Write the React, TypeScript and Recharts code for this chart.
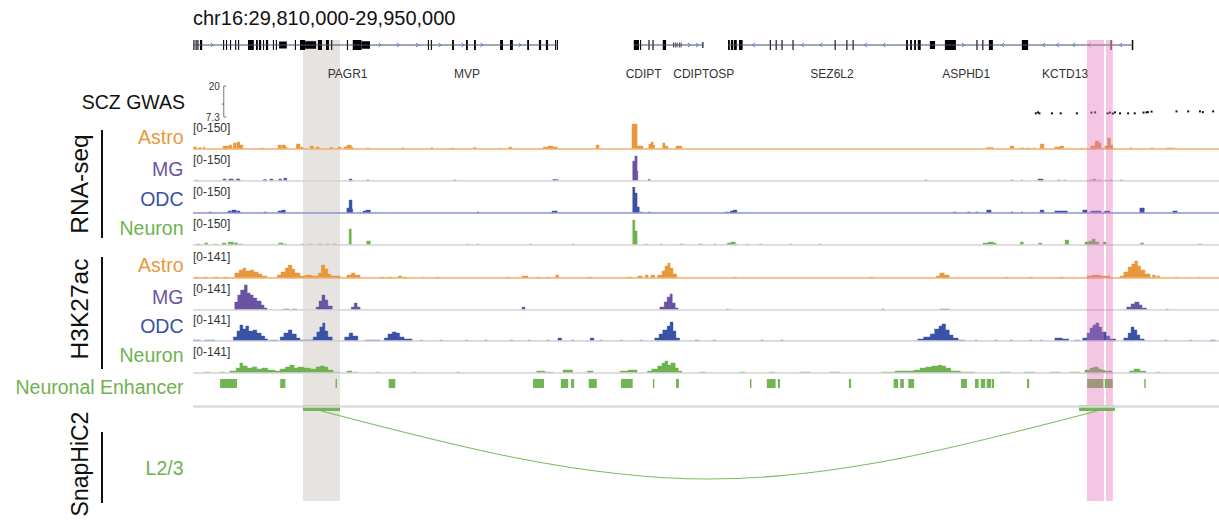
import React from "react";
import {
  Area,
  AreaChart,
  ComposedChart,
  Line,
  ReferenceArea,
  ReferenceLine,
  Scatter,
  XAxis,
  YAxis,
} from "recharts";

// all positions are kb from 29,810,000 (chr16)
const X_DOMAIN: [number, number] = [0, 140];
const TITLE = "chr16:29,810,000-29,950,000";

// gene models
const GENE_SPANS = [
  [0, 49.8],
  [60.15, 69.6],
  [73.0, 128.3],
];
// [start, end, relative height]
const EXONS = [
  [0.05, 0.2, 1], [0.35, 0.5, 1], [0.6, 0.75, 1], [0.95, 1.25, 1],
  [4.1, 4.25, 1], [4.5, 4.65, 1], [5.05, 5.2, 1], [5.75, 5.9, 1], [6.15, 6.3, 1],
  [7.5, 8.3, 1], [8.6, 8.85, 1], [9.0, 9.3, 1], [9.55, 9.7, 1], [9.95, 10.25, 1],
  [10.9, 11.05, 1], [11.3, 11.45, 1], [11.75, 12.8, 0.7],
  [13.9, 14.05, 1], [14.6, 15.3, 1], [15.3, 16.8, 0.75], [17.05, 17.6, 1], [18.15, 18.55, 1], [18.85, 19.0, 1],
  [21.0, 21.15, 1], [21.8, 23.0, 1], [23.0, 24.15, 0.75],
  [32.05, 32.2, 1], [32.45, 32.6, 1], [35.35, 35.6, 1], [37.25, 37.5, 1], [38.35, 38.6, 1],
  [41.9, 42.3, 1], [43.25, 43.65, 1], [45.6, 45.85, 1], [47.2, 47.5, 1], [48.15, 48.45, 1], [49.4, 49.55, 1], [49.65, 49.8, 1],
  [60.15, 60.85, 1], [61.0, 61.15, 1], [62.15, 62.3, 1], [62.7, 62.85, 1], [64.1, 64.55, 1],
  [65.5, 65.6, 0.5], [65.75, 65.85, 0.5], [66.0, 66.1, 0.5], [66.3, 66.4, 0.5], [66.55, 66.65, 0.5], [69.5, 69.65, 0.6],
  [73.0, 73.25, 1], [73.4, 73.7, 1], [73.8, 74.2, 1], [74.5, 75.0, 1],
  [78.7, 78.85, 1], [79.5, 79.65, 1], [80.3, 80.45, 1], [81.8, 81.95, 1], [87.55, 87.7, 1], [89.15, 89.3, 1], [90.0, 90.15, 1],
  [97.3, 97.55, 1], [97.85, 98.1, 1], [98.4, 98.65, 1], [98.9, 99.3, 1], [100.55, 101.25, 0.8],
  [102.6, 104.1, 1], [106.9, 107.05, 1], [107.7, 107.85, 1], [108.6, 109.15, 1],
  [113.1, 113.95, 1], [125.2, 125.35, 1], [128.1, 128.3, 1],
];
const STRAND_FWD = [2.6, 25.5, 28.0, 30.6, 33.7, 36.8, 39.4, 44.6, 67.7, 68.8, 105.1];
const STRAND_REV = [76.5, 83.2, 85.7, 91.8, 94.3, 110.5, 116.1, 118.0, 120.2, 122.3, 126.6];
const GENE_NAMES = ["PAGR1", "MVP", "CDIPT", "CDIPTOSP", "SEZ6L2", "ASPHD1", "KCTD13"];
const GENE_LABEL_POS = [21.1, 37.4, 61.5, 69.7, 87.2, 105.5, 119.0];

// SCZ GWAS (-log10 P)
const GWAS_POS = [115.0, 115.3, 115.5, 117.2, 118.4, 120.6, 122.6, 123.1, 124.8, 125.1, 125.5, 125.8, 126.5, 127.6, 128.5, 129.7, 130.1, 130.3, 130.8, 134.2, 135.8, 137.4, 137.8, 139.2];
const GWAS_LOGP = [8.8, 9.2, 8.8, 8.8, 8.8, 8.8, 9.1, 9.2, 8.8, 9.1, 8.7, 9.2, 8.8, 8.8, 8.8, 9.1, 9.2, 9.3, 9.5, 9.6, 9.6, 9.6, 9.3, 9.6];
const GWAS_RANGE: [number, number] = [7.3, 20];

// coverage tracks: [start, end, signal]
const RNA_ASTRO = [
  [0.1, 0.5, 12], [0.8, 1.1, 9], [1.4, 1.6, 12],
  [4.1, 4.8, 17], [4.9, 5.3, 23], [5.5, 5.9, 35], [6.0, 6.4, 40], [6.4, 6.8, 23],
  [9.3, 9.6, 6], [11.6, 12.0, 23], [12.1, 12.6, 23], [12.6, 12.8, 12],
  [14.1, 14.6, 29], [14.7, 15.0, 12], [16.0, 16.4, 17], [16.8, 17.2, 12],
  [18.7, 19.1, 9], [19.8, 20.2, 12], [20.6, 21.0, 12], [21.0, 21.6, 23], [21.6, 21.8, 12],
  [23.7, 24.0, 6], [28.5, 28.8, 6], [32.5, 32.7, 9], [35.3, 35.6, 6], [38.3, 38.6, 9], [41.8, 42.0, 6], [43.1, 43.5, 12],
  [47.8, 48.3, 12], [48.4, 49.1, 17], [49.1, 49.7, 12], [55.0, 55.4, 23],
  [59.9, 60.6, 144], [60.6, 60.9, 17], [60.9, 61.4, 17],
  [62.2, 62.5, 29], [62.5, 62.8, 40], [62.8, 63.0, 23], [64.1, 64.4, 35], [64.4, 64.8, 17], [65.9, 66.7, 17],
  [108.3, 109.2, 9], [111.5, 112.0, 17], [112.8, 113.4, 6], [113.8, 114.2, 6], [114.6, 115.0, 6], [115.6, 116.1, 29],
  [117.6, 118.3, 12], [118.3, 118.8, 17], [121.2, 121.4, 6], [122.5, 123.1, 17], [123.1, 123.6, 46], [123.6, 123.9, 35],
  [124.4, 124.8, 17], [124.8, 125.2, 63], [125.2, 125.5, 23], [127.8, 128.1, 6], [130.6, 131.1, 6], [132.9, 134.0, 6],
];
const RNA_MG = [
  [0.4, 0.6, 6], [4.1, 4.5, 12], [4.9, 5.5, 12], [5.9, 6.4, 12], [9.6, 10.0, 9], [10.5, 10.9, 12], [11.7, 12.1, 12], [12.4, 12.8, 17],
  [21.3, 21.7, 12], [23.7, 24.0, 6], [35.6, 35.9, 6], [49.1, 49.8, 9],
  [60.0, 60.3, 115], [60.3, 60.6, 144], [60.6, 60.7, 58], [62.1, 62.4, 9], [99.9, 100.2, 6],
  [111.6, 111.9, 6], [113.0, 113.2, 6], [115.3, 116.0, 12], [118.0, 118.3, 6], [118.8, 119.1, 6],
  [122.3, 122.7, 6], [122.8, 123.2, 9], [123.5, 123.8, 6], [124.4, 124.7, 6], [125.1, 125.4, 6], [126.5, 126.8, 6],
];
const RNA_ODC = [
  [2.2, 2.5, 6], [4.8, 5.2, 12], [5.3, 5.9, 17], [6.0, 6.4, 12], [9.7, 10.0, 6], [11.6, 12.1, 12], [12.1, 12.6, 17],
  [21.0, 21.3, 29], [21.3, 21.7, 75], [21.7, 21.8, 23], [23.2, 23.6, 12], [23.6, 24.2, 17], [38.8, 39.0, 6], [49.0, 49.7, 12],
  [60.0, 60.3, 150], [60.3, 60.6, 115], [60.6, 60.9, 35], [61.1, 61.3, 6], [62.2, 62.4, 6],
  [72.6, 73.1, 6], [73.3, 73.7, 12], [73.7, 74.2, 17],
  [103.8, 104.1, 6], [105.7, 106.0, 6], [106.8, 107.1, 6], [108.3, 108.9, 17], [111.6, 111.9, 6], [113.0, 113.2, 6],
  [115.6, 116.1, 17], [117.6, 119.3, 12], [121.4, 122.0, 17], [122.5, 123.9, 12], [124.4, 125.1, 12], [129.2, 129.8, 29], [133.7, 134.3, 12],
];
const RNA_NEURON = [
  [0.5, 1.0, 6], [1.6, 2.0, 12], [2.9, 3.3, 6], [4.0, 4.5, 12], [4.8, 5.5, 17], [5.6, 6.1, 12], [6.3, 6.8, 6],
  [11.7, 12.3, 12], [12.4, 12.8, 6], [14.7, 15.1, 6], [15.8, 16.2, 6], [17.1, 17.6, 6], [18.1, 18.6, 6], [19.1, 19.6, 6],
  [21.3, 21.6, 92], [23.7, 24.2, 23], [37.3, 37.6, 6], [38.7, 39.0, 6], [45.9, 46.2, 6], [51.7, 52.0, 6],
  [60.0, 60.3, 144], [60.3, 60.6, 81], [61.7, 62.0, 6], [63.7, 64.0, 6], [66.4, 66.9, 6], [69.0, 69.5, 6], [71.1, 71.4, 6],
  [72.9, 73.4, 12], [73.4, 74.0, 17], [74.0, 74.2, 6], [75.5, 75.8, 6], [77.3, 77.6, 6], [81.4, 81.7, 6], [85.4, 85.7, 6],
  [107.8, 108.5, 12], [108.5, 109.2, 17], [109.2, 109.6, 12], [112.9, 113.3, 17], [115.4, 115.8, 12], [119.0, 119.5, 29],
  [121.7, 122.3, 17], [122.3, 122.7, 23], [122.7, 123.1, 35], [123.1, 123.6, 17], [124.2, 124.6, 17], [129.3, 129.7, 12], [137.2, 137.6, 6],
];
const H3K_ASTRO = [
  [0.3, 0.7, 5], [1.5, 1.9, 5], [2.9, 3.4, 5], [4.2, 4.8, 5],
  [5.7, 6.3, 27], [6.3, 6.8, 43], [6.8, 7.2, 54], [7.2, 7.8, 38], [7.8, 8.3, 43], [8.3, 8.9, 33], [8.9, 9.4, 22], [9.4, 10.1, 11],
  [11.5, 12.0, 16], [12.0, 12.6, 33], [12.6, 13.0, 54], [13.0, 13.5, 70], [13.5, 13.9, 49], [13.9, 14.6, 27],
  [14.6, 15.3, 11], [15.3, 16.2, 16], [16.2, 17.1, 11], [17.1, 17.5, 27], [17.5, 18.0, 70], [18.0, 18.4, 49], [18.4, 18.8, 22], [18.8, 20.1, 11],
  [21.0, 21.6, 16], [21.6, 22.1, 27], [22.1, 22.8, 16],
  [25.5, 26.1, 5], [26.6, 27.2, 5], [28.0, 28.5, 11], [28.7, 29.2, 5],
  [31.3, 31.6, 5], [33.2, 33.5, 5], [42.9, 43.2, 5], [44.9, 45.7, 11], [47.0, 47.3, 5], [48.2, 48.5, 5], [49.5, 49.9, 16], [53.8, 54.4, 5],
  [59.2, 59.9, 5], [60.7, 61.3, 11], [61.7, 62.1, 16], [62.5, 63.0, 16],
  [63.4, 64.0, 16], [64.0, 64.4, 38], [64.4, 64.8, 65], [64.8, 65.1, 81], [65.1, 65.5, 54], [65.5, 66.0, 22],
  [73.8, 74.2, 5], [92.4, 92.8, 5],
  [101.4, 101.9, 11], [101.9, 102.5, 27], [102.5, 103.2, 16],
  [110.9, 111.3, 5], [114.2, 114.6, 5], [118.3, 118.7, 5],
  [122.0, 122.7, 11], [122.7, 123.8, 16], [123.8, 125.1, 11],
  [126.5, 127.0, 11], [127.0, 127.6, 33], [127.6, 128.1, 60], [128.1, 128.5, 76], [128.5, 128.9, 92], [128.9, 129.3, 65], [129.3, 129.9, 43], [129.9, 130.6, 22],
  [130.9, 131.3, 16], [131.5, 131.9, 11], [134.0, 134.3, 5], [137.2, 137.5, 5],
];
const H3K_MG = [
  [5.7, 6.1, 43], [6.1, 6.5, 81], [6.5, 7.0, 108], [7.0, 7.4, 136], [7.4, 7.8, 92], [7.8, 8.2, 81], [8.2, 8.7, 65], [8.7, 9.3, 49], [9.3, 9.7, 27], [9.7, 10.1, 11],
  [12.3, 13.2, 5], [13.5, 14.2, 5],
  [16.8, 17.2, 16], [17.2, 17.6, 49], [17.6, 18.0, 81], [18.0, 18.4, 54], [18.4, 19.0, 22],
  [21.6, 22.0, 16], [22.0, 22.4, 38], [22.4, 22.8, 16], [44.9, 45.3, 16],
  [63.7, 64.3, 16], [64.3, 64.7, 43], [64.7, 65.1, 70], [65.1, 65.4, 87], [65.4, 65.8, 38], [65.8, 66.2, 11],
  [72.8, 73.1, 5], [94.0, 94.3, 5], [101.9, 103.2, 5],
  [127.4, 128.0, 16], [128.0, 128.5, 33], [128.5, 129.1, 43], [129.1, 129.5, 27], [129.5, 130.1, 11], [132.8, 133.1, 5],
];
const H3K_ODC = [
  [0.0, 1.0, 5], [1.6, 3.0, 5],
  [5.5, 6.0, 22], [6.0, 6.4, 54], [6.4, 6.8, 87], [6.8, 7.2, 65], [7.2, 7.6, 81], [7.6, 8.2, 54], [8.2, 8.7, 60], [8.7, 9.3, 43], [9.3, 9.8, 27], [9.8, 10.2, 11],
  [10.5, 11.6, 5],
  [11.9, 12.4, 22], [12.4, 13.0, 43], [13.0, 13.5, 60], [13.5, 14.1, 38], [14.1, 14.6, 16], [14.6, 16.4, 5],
  [16.4, 16.9, 22], [16.9, 17.3, 49], [17.3, 17.7, 76], [17.7, 18.0, 98], [18.0, 18.4, 54], [18.4, 19.0, 22],
  [20.7, 21.3, 22], [21.3, 21.8, 43], [21.8, 22.5, 27], [23.5, 25.5, 5],
  [26.1, 26.6, 16], [26.6, 27.2, 38], [27.2, 27.7, 49], [27.7, 28.2, 43], [28.2, 28.8, 22], [28.8, 29.9, 11],
  [31.0, 31.3, 5], [33.7, 34.0, 5], [37.2, 37.5, 5], [39.8, 40.1, 5], [43.3, 43.6, 5], [45.7, 46.0, 5], [48.3, 48.6, 5],
  [49.8, 50.3, 16], [51.7, 52.0, 5], [54.2, 54.7, 16], [55.5, 55.8, 5], [58.3, 58.6, 5], [61.0, 61.3, 5],
  [63.0, 63.6, 16], [63.6, 64.1, 38], [64.1, 64.7, 60], [64.7, 65.1, 81], [65.1, 65.5, 103], [65.5, 65.9, 54], [65.9, 66.4, 16],
  [68.5, 69.0, 5], [71.0, 71.3, 5], [77.5, 77.8, 5], [80.2, 80.5, 5],
  [98.9, 99.7, 11], [99.7, 100.6, 22], [100.6, 101.2, 38], [101.2, 101.8, 65], [101.8, 102.2, 81], [102.2, 102.7, 92], [102.7, 103.2, 60], [103.2, 103.7, 33], [103.7, 104.4, 16], [104.4, 105.3, 5],
  [106.7, 107.0, 5], [109.4, 109.7, 5], [111.5, 111.8, 5], [114.2, 114.5, 5], [115.6, 115.9, 5],
  [117.6, 118.6, 16], [118.6, 119.5, 11], [120.3, 121.0, 5],
  [121.4, 122.0, 16], [122.0, 122.4, 43], [122.4, 122.8, 70], [122.8, 123.2, 87], [123.2, 123.6, 98], [123.6, 124.0, 76], [124.0, 124.6, 49], [124.6, 125.1, 27], [125.1, 125.9, 11],
  [127.0, 127.6, 16], [127.6, 128.0, 43], [128.0, 128.4, 76], [128.4, 128.8, 60], [128.8, 129.2, 33], [129.2, 129.8, 11],
  [132.6, 132.9, 5], [136.0, 136.3, 5], [138.8, 139.5, 5],
];
const H3K_NEURON = [
  [1.6, 2.3, 5], [3.7, 4.4, 5], [5.0, 5.9, 11], [5.9, 6.4, 27], [6.4, 6.8, 54], [6.8, 7.4, 38], [7.4, 8.1, 27], [8.1, 8.7, 33],
  [8.7, 9.4, 22], [9.4, 10.2, 27], [10.2, 11.2, 16], [11.2, 11.9, 11], [11.9, 12.6, 22], [12.6, 13.2, 33], [13.2, 13.8, 43],
  [13.8, 14.3, 27], [14.3, 15.1, 33], [15.1, 16.0, 27], [16.0, 16.8, 22], [16.8, 17.3, 33], [17.3, 17.9, 38], [17.9, 18.4, 33], [18.4, 19.1, 16], [19.1, 20.1, 5],
  [21.0, 21.7, 11], [22.0, 22.4, 5], [25.0, 25.4, 5], [30.0, 30.4, 5], [36.0, 36.4, 5],
  [46.9, 48.0, 11], [48.0, 49.1, 5], [50.5, 51.8, 16], [53.8, 54.6, 11], [58.3, 59.4, 11], [59.4, 60.6, 16],
  [62.0, 62.6, 11], [62.6, 63.4, 22], [63.4, 64.0, 38], [64.0, 64.4, 54], [64.4, 64.8, 65], [64.8, 65.2, 43], [65.2, 65.8, 54], [65.8, 66.2, 27], [66.2, 66.7, 11],
  [69.2, 69.9, 5], [74.6, 75.3, 5], [78.7, 79.4, 5], [82.8, 84.2, 5], [86.9, 88.3, 5],
  [93.9, 95.8, 5], [95.8, 98.4, 11], [98.4, 99.2, 16], [99.2, 100.0, 27], [100.0, 100.8, 33], [100.8, 101.7, 38], [101.7, 102.2, 43], [102.2, 102.7, 38], [102.7, 103.4, 27], [103.4, 104.7, 11], [104.7, 106.7, 5],
  [110.1, 111.5, 5], [113.5, 114.9, 5], [116.9, 118.3, 5], [119.7, 121.0, 5],
  [121.7, 122.4, 16], [122.4, 122.9, 27], [122.9, 123.5, 33], [123.5, 123.9, 22], [123.9, 124.4, 16], [124.4, 125.4, 11],
  [127.8, 128.4, 11], [128.4, 129.2, 22], [129.2, 130.0, 11], [131.5, 132.0, 5],
];

const ENHANCERS = [
  [3.7, 6.0], [11.9, 12.6], [19.45, 19.65], [26.7, 27.6], [46.4, 47.9], [50.2, 51.2], [51.6, 52.0], [54.0, 55.1],
  [58.4, 60.0], [62.75, 62.95], [65.9, 66.3], [76.0, 76.2], [78.3, 79.5], [79.8, 80.1], [89.5, 89.8],
  [95.6, 96.2], [96.5, 97.0], [97.6, 98.4], [104.8, 105.6], [106.7, 107.2], [107.5, 108.1], [108.3, 108.9], [109.0, 109.3],
  [113.8, 114.1], [122.0, 124.2], [124.4, 125.5], [129.8, 130.0],
];
const SNAPHIC_ANCHORS = [
  [15.0, 20.06],
  [120.9, 125.8],
];
const HIGHLIGHT_GRAY = [[15.0, 20.06]];
const HIGHLIGHT_PINK = [
  [121.98, 124.3],
  [124.57, 125.52],
];

const ORANGE = "#E9973B";
const PURPLE = "#6B53A4";
const BLUE = "#3A52A6";
const GREEN = "#6DB24F";
const FONT = "'Liberation Sans', Arial, Helvetica, sans-serif";
const LEFT = 193;
const PW = 1026;
const NO_MARGIN = { top: 0, right: 0, bottom: 0, left: 0 };

function toSteps(segs: number[][]) {
  const sorted = [...segs].sort((a, b) => a[0] - b[0]);
  const pts: { x: number; v: number }[] = [{ x: X_DOMAIN[0], v: 0 }];
  sorted.forEach(([s, e, v], i) => {
    const joined = i > 0 && Math.abs(s - sorted[i - 1][1]) < 1e-6;
    if (!joined) pts.push({ x: s, v: 0 });
    pts.push({ x: s, v }, { x: e, v });
    const next = sorted[i + 1];
    if (!next || Math.abs(next[0] - e) > 1e-6) pts.push({ x: e, v: 0 });
  });
  pts.push({ x: X_DOMAIN[1], v: 0 });
  return pts;
}

const TRACKS = [
  { segs: RNA_ASTRO, color: ORANGE, line: "#F0B274", base: 149, max: 150, range: "[0-150]" },
  { segs: RNA_MG, color: PURPLE, line: "#D9D9DD", base: 181, max: 150, range: "[0-150]" },
  { segs: RNA_ODC, color: BLUE, line: "#8E9AD0", base: 213, max: 150, range: "[0-150]" },
  { segs: RNA_NEURON, color: GREEN, line: "#D6D6D6", base: 245, max: 150, range: "[0-150]" },
  { segs: H3K_ASTRO, color: ORANGE, line: "#F0B274", base: 278, max: 141, range: "[0-141]" },
  { segs: H3K_MG, color: PURPLE, line: "#D9D9DD", base: 310, max: 141, range: "[0-141]" },
  { segs: H3K_ODC, color: BLUE, line: "#D4D6DE", base: 341, max: 141, range: "[0-141]" },
  { segs: H3K_NEURON, color: GREEN, line: "#D6D6D6", base: 373, max: 141, range: "[0-141]" },
];

function Track({ segs, color, line, base, max, range }: any) {
  const data = toSteps(segs);
  return (
    <div style={{ position: "absolute", left: LEFT, top: base - 30, width: PW, height: 31 }}>
      <AreaChart width={PW} height={31} data={data} margin={{ top: 4, right: 0, bottom: 1, left: 0 }}>
        <XAxis dataKey="x" type="number" domain={X_DOMAIN} hide allowDataOverflow />
        <YAxis type="number" domain={[0, max]} hide allowDataOverflow />
        <ReferenceLine y={0} stroke={line} strokeWidth={1.4} />
        <Area
          type="linear"
          dataKey="v"
          stroke={color}
          strokeWidth={0.4}
          fill={color}
          fillOpacity={1}
          dot={false}
          activeDot={false}
          isAnimationActive={false}
        />
      </AreaChart>
      <div style={{ position: "absolute", left: 0, top: 2, fontSize: 12, lineHeight: "14px", color: "#333" }}>{range}</div>
    </div>
  );
}

// invisible anchor series so the reference areas have a plotted item to hang on
const NoMark = () => <g />;

function Highlights({ areas, fill, opacity }: { areas: number[][]; fill: string; opacity: number }) {
  return (
    <div style={{ position: "absolute", left: LEFT, top: 40, width: PW, height: 461, pointerEvents: "none" }}>
      <ComposedChart width={PW} height={461} data={areas.map(([s]) => ({ x: s, y: 0 }))} margin={NO_MARGIN}>
        <XAxis dataKey="x" type="number" domain={X_DOMAIN} hide />
        <YAxis dataKey="y" type="number" domain={[0, 1]} hide />
        {areas.map(([s, e], i) => (
          <ReferenceArea key={i} x1={s} x2={e} y1={0} y2={1} fill={fill} fillOpacity={opacity} stroke="none" />
        ))}
        <Scatter dataKey="y" shape={NoMark} isAnimationActive={false} />
      </ComposedChart>
    </div>
  );
}

const chevron = (dir: number) => (p: any) =>
  (
    <path
      d={`M${p.cx - 1.3 * dir},${p.cy - 2} L${p.cx + 1.3 * dir},${p.cy} L${p.cx - 1.3 * dir},${p.cy + 2}`}
      stroke="#5676D6"
      strokeWidth={0.9}
      fill="none"
    />
  );

function GeneTrack() {
  return (
    <div style={{ position: "absolute", left: LEFT, top: 40, width: PW, height: 40 }}>
      <ComposedChart width={PW} height={40} margin={NO_MARGIN}>
        <XAxis
          dataKey="x"
          type="number"
          domain={X_DOMAIN}
          ticks={GENE_LABEL_POS}
          interval={0}
          tickFormatter={(_v: number, i: number) => GENE_NAMES[i]}
          axisLine={false}
          tickLine={false}
          tickSize={0}
          tickMargin={19}
          height={30}
          tick={{ fontSize: 12, fill: "#333" }}
        />
        <YAxis dataKey="y" type="number" domain={[-0.5, 0.5]} hide />
        {GENE_SPANS.map(([s, e], i) => (
          <ReferenceLine key={"g" + i} segment={[{ x: s, y: 0 }, { x: e, y: 0 }]} stroke="#44506E" strokeWidth={1} />
        ))}
        {EXONS.map(([s, e, h], i) => (
          <ReferenceArea key={"e" + i} x1={s} x2={e} y1={-h / 2} y2={h / 2} fill="#000" fillOpacity={1} stroke="none" />
        ))}
        <Scatter data={STRAND_FWD.map((x) => ({ x, y: 0 }))} shape={chevron(1)} isAnimationActive={false} />
        <Scatter data={STRAND_REV.map((x) => ({ x, y: 0 }))} shape={chevron(-1)} isAnimationActive={false} />
      </ComposedChart>
    </div>
  );
}

const SCALE_X = 4.2;

function GwasTrack() {
  const data = GWAS_POS.map((x, i) => ({ x, y: GWAS_LOGP[i] }));
  return (
    <div style={{ position: "absolute", left: LEFT, top: 86, width: PW, height: 31 }}>
      <ComposedChart width={PW} height={31} data={data} margin={NO_MARGIN}>
        <XAxis dataKey="x" type="number" domain={X_DOMAIN} hide />
        <YAxis dataKey="y" type="number" domain={GWAS_RANGE} hide allowDataOverflow />
        <ReferenceLine segment={[{ x: SCALE_X, y: GWAS_RANGE[0] }, { x: SCALE_X, y: GWAS_RANGE[1] }]} stroke="#555" strokeWidth={0.8} />
        <ReferenceLine
          segment={[{ x: SCALE_X, y: GWAS_RANGE[1] }, { x: SCALE_X + 0.35, y: GWAS_RANGE[1] }]}
          stroke="#555"
          strokeWidth={0.8}
          label={{ value: "20", position: "left", fontSize: 10, fill: "#333", offset: 4 }}
        />
        <ReferenceLine
          segment={[{ x: SCALE_X, y: GWAS_RANGE[0] }, { x: SCALE_X + 0.35, y: GWAS_RANGE[0] }]}
          stroke="#555"
          strokeWidth={0.8}
          label={{ value: "7.3", position: "left", fontSize: 10, fill: "#333", offset: 4 }}
        />
        <ReferenceLine segment={[{ x: SCALE_X - 0.3, y: 12.6 }, { x: SCALE_X, y: 12.6 }]} stroke="#555" strokeWidth={0.8} />
        <Scatter
          dataKey="y"
          isAnimationActive={false}
          shape={(p: any) => <rect x={p.cx - 1} y={p.cy - 1} width={2} height={2} fill="#111" />}
        />
      </ComposedChart>
    </div>
  );
}

function EnhancerTrack() {
  return (
    <div style={{ position: "absolute", left: LEFT, top: 379, width: PW, height: 9 }}>
      <ComposedChart width={PW} height={9} data={ENHANCERS.map(([s]) => ({ x: s, y: 0 }))} margin={NO_MARGIN}>
        <XAxis dataKey="x" type="number" domain={X_DOMAIN} hide />
        <YAxis dataKey="y" type="number" domain={[0, 1]} hide />
        {ENHANCERS.map(([s, e], i) => (
          <ReferenceArea key={i} x1={s} x2={e} y1={0} y2={1} fill="#72B555" fillOpacity={1} stroke="none" />
        ))}
        <Scatter dataKey="y" shape={NoMark} isAnimationActive={false} />
      </ComposedChart>
    </div>
  );
}

const ARC_DEPTH = 79;
const BAR_TOP = 5;
const BAR_BOTTOM = 11;

function SnapHiCTrack() {
  const mids = SNAPHIC_ANCHORS.map(([s, e]) => (s + e) / 2);
  const arc = [
    { x: mids[0], y: BAR_BOTTOM },
    { x: (mids[0] + mids[1]) / 2, y: ARC_DEPTH },
    { x: mids[1], y: BAR_BOTTOM },
  ];
  return (
    <div style={{ position: "absolute", left: LEFT, top: 400, width: PW, height: 100 }}>
      <ComposedChart width={PW} height={100} data={arc} margin={NO_MARGIN}>
        <XAxis dataKey="x" type="number" domain={X_DOMAIN} hide />
        <YAxis type="number" domain={[0, 100]} reversed hide />
        <ReferenceLine y={6.5} stroke="#DCDCDC" strokeWidth={2.5} />
        {SNAPHIC_ANCHORS.map(([s, e], i) => (
          <ReferenceArea key={i} x1={s} x2={e} y1={BAR_TOP} y2={BAR_BOTTOM} fill="#74B556" fillOpacity={1} stroke="none" />
        ))}
        <Line type="natural" dataKey="y" stroke="#7DBB5E" strokeWidth={1.1} dot={false} activeDot={false} isAnimationActive={false} />
      </ComposedChart>
    </div>
  );
}

const LABEL_SIZE = 19.5;
const ROW_LABELS = [
  { text: "SCZ GWAS", y: 109, color: "#111", x: 185 },
  { text: "Astro", y: 144, color: ORANGE, x: 183.5 },
  { text: "MG", y: 176, color: PURPLE, x: 183.5 },
  { text: "ODC", y: 206, color: BLUE, x: 183.5 },
  { text: "Neuron", y: 235, color: GREEN, x: 183.5 },
  { text: "Astro", y: 272, color: ORANGE, x: 183.5 },
  { text: "MG", y: 304, color: PURPLE, x: 183.5 },
  { text: "ODC", y: 333, color: BLUE, x: 183.5 },
  { text: "Neuron", y: 362, color: GREEN, x: 183.5 },
  { text: "Neuronal Enhancer", y: 394, color: GREEN, x: 183.5 },
  { text: "L2/3", y: 475, color: GREEN, x: 183.5 },
];
const GROUPS = [
  { text: "RNA-seq", cy: 184, size: 24.5, y1: 130, y2: 238 },
  { text: "H3K27ac", cy: 309, size: 24.5, y1: 257, y2: 369 },
  { text: "SnapHiC2", cy: 464, size: 23, y1: 432, y2: 503 },
];

export default function App() {
  return (
    <div
      style={{
        position: "absolute",
        left: 0,
        top: 0,
        width: 1219,
        height: 521,
        background: "#fff",
        overflow: "hidden",
        fontFamily: FONT,
      }}
    >
      <style>{`.recharts-surface{overflow:visible}`}</style>
      <Highlights areas={HIGHLIGHT_GRAY} fill="#E7E3E0" opacity={1} />
      <GeneTrack />
      <GwasTrack />
      {TRACKS.map((t, i) => (
        <Track key={i} {...t} />
      ))}
      <EnhancerTrack />
      <Highlights areas={HIGHLIGHT_PINK} fill="#E070B8" opacity={0.4} />
      <SnapHiCTrack />
      <svg width={1219} height={521} style={{ position: "absolute", left: 0, top: 0, pointerEvents: "none" }}>
        <text x={193} y={25} fontSize={20} fill="#111">
          {TITLE}
        </text>
        {ROW_LABELS.map((l, i) => (
          <text key={i} x={l.x} y={l.y} fontSize={LABEL_SIZE} fill={l.color} textAnchor="end">
            {l.text}
          </text>
        ))}
        {GROUPS.map((g, i) => (
          <g key={i}>
            <text transform={`translate(88, ${g.cy}) rotate(-90)`} fontSize={g.size} fill="#111" textAnchor="middle">
              {g.text}
            </text>
            <line x1={102} x2={102} y1={g.y1} y2={g.y2} stroke="#111" strokeWidth={2} />
          </g>
        ))}
      </svg>
    </div>
  );
}
